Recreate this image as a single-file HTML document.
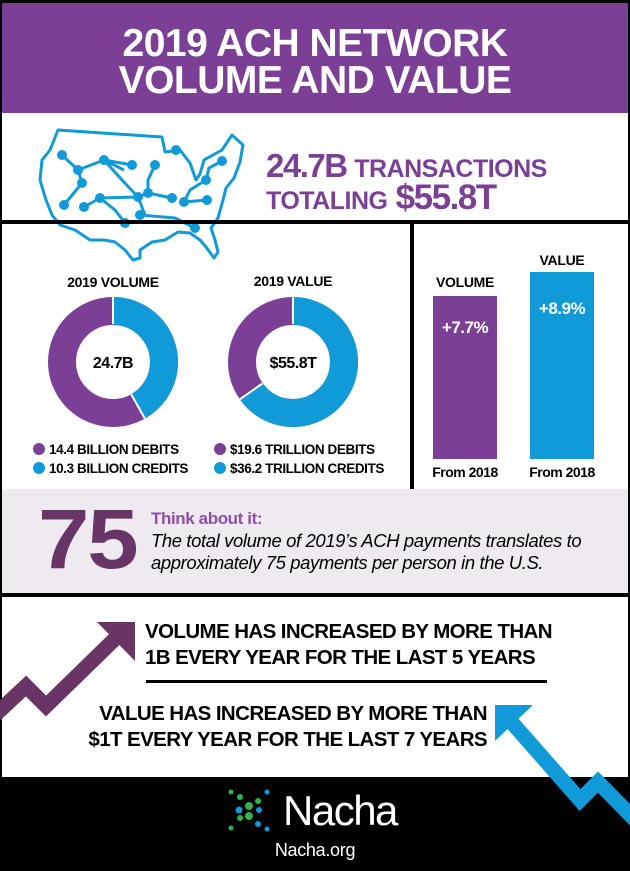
<!DOCTYPE html>
<html><head><meta charset="utf-8"><style>
*{margin:0;padding:0;box-sizing:border-box}
body{width:630px;height:871px;background:#fff;font-family:"Liberation Sans",sans-serif;position:relative;overflow:hidden}
.a{position:absolute}
.b{font-weight:bold}
</style></head><body>
<div class="a" style="left:0;top:0;width:630px;height:871px;border:2px solid #000;border-top:3px solid #000"></div>
<div class="a" style="left:2px;top:3px;width:626px;height:110px;background:#7b3f96"></div>
<div class="a b" style="left:0;top:25px;width:630px;text-align:center;color:#fff;font-size:39px;line-height:37px;letter-spacing:-0.5px">2019 ACH NETWORK<br>VOLUME AND VALUE</div>

<!-- map -->
<svg class="a" style="left:0;top:100px" width="260" height="170" viewBox="0 0 260 170">
<g fill="none" stroke="#109ad8" stroke-width="3" stroke-linejoin="round">
<path d="M58 30 L162 37 L165 52 L180 50 L190 63 L196 80 L200 74 L204 60 L222 50 L230 38 L232 35 L243 45 L240 62 L234 78 L226 88 L223 100 L218 118 L211 128 L215 140 L218 152 L214 158 L206 147 L200 140 L190 133 L178 132 L165 140 L152 142 L140 150 L140 158 L133 160 L125 150 L115 142 L104 140 L90 140 L75 130 L60 125 L52 115 L46 100 L40 80 L42 60 L50 50 Z"/>
<path d="M62 55 L78 70 L82 83 L64 105 M78 70 L104 60 L132 65 M104 60 L122 80 L138 97 L145 115 M104 60 L124 70 M155 65 L148 80 L148 93 L172 98 M138 97 L148 93 M138 97 L100 98 L84 107 M100 98 L115 110 L125 123 M140 115 L175 118 L195 128 M184 102 L190 90 L206 80 L209 68 L222 61 M184 102 L207 100"/>
</g>
<g fill="#109ad8"><circle cx="62" cy="55" r="5"/><circle cx="78" cy="70" r="5"/><circle cx="104" cy="60" r="5"/><circle cx="132" cy="65" r="5"/><circle cx="82" cy="83" r="5"/><circle cx="64" cy="105" r="5"/><circle cx="155" cy="65" r="5"/><circle cx="148" cy="93" r="5"/><circle cx="172" cy="98" r="5"/><circle cx="138" cy="97" r="5"/><circle cx="100" cy="98" r="5"/><circle cx="84" cy="107" r="5"/><circle cx="125" cy="123" r="5"/><circle cx="140" cy="115" r="5"/><circle cx="195" cy="128" r="5"/><circle cx="184" cy="102" r="5"/><circle cx="207" cy="100" r="5"/><circle cx="206" cy="80" r="5"/><circle cx="222" cy="61" r="5"/><circle cx="176" cy="50" r="5"/></g>
</svg>
<div class="a b" style="left:266px;top:147px;color:#7b3f96;font-size:33px;letter-spacing:-1.5px;white-space:nowrap">24.7B <span style="font-size:25px;letter-spacing:-0.5px">TRANSACTIONS</span></div>
<div class="a b" style="left:266px;top:178px;color:#7b3f96;font-size:35px;letter-spacing:-1.5px;white-space:nowrap"><span style="font-size:25px;letter-spacing:-0.5px">TOTALING</span> $55.8T</div>

<div class="a" style="left:0;top:220px;width:630px;height:4px;background:#000"></div>
<div class="a" style="left:410px;top:220px;width:4px;height:270px;background:#000"></div>

<!-- donuts -->
<div class="a b" style="left:43px;top:274px;width:140px;text-align:center;font-size:14px;letter-spacing:-0.3px">2019 VOLUME</div>
<div class="a b" style="left:223px;top:273px;width:140px;text-align:center;font-size:14px;letter-spacing:-0.3px">2019 VALUE</div>
<svg class="a" style="left:0;top:290px" width="400" height="150">
<g transform="translate(113,72)">
<circle r="51" fill="none" stroke="#7b3f96" stroke-width="28"/>
<circle r="51" fill="none" stroke="#109ad8" stroke-width="28" stroke-dasharray="133.6 400" transform="rotate(-90)"/>
<line x1="0" y1="-38" x2="0" y2="-66" stroke="#fff" stroke-width="2"/>
<line x1="18.3" y1="32.4" x2="31.8" y2="56.5" stroke="#fff" stroke-width="2"/>
<text y="6" text-anchor="middle" font-family="Liberation Sans" font-weight="bold" font-size="16" letter-spacing="-0.5">24.7B</text>
</g>
<g transform="translate(293,72)">
<circle r="51" fill="none" stroke="#7b3f96" stroke-width="28"/>
<circle r="51" fill="none" stroke="#109ad8" stroke-width="28" stroke-dasharray="208 400" transform="rotate(-90)"/>
<line x1="0" y1="-38" x2="0" y2="-66" stroke="#fff" stroke-width="2"/>
<line x1="-30.6" y1="21.5" x2="-53.3" y2="37.4" stroke="#fff" stroke-width="2"/>
<text y="6" text-anchor="middle" font-family="Liberation Sans" font-weight="bold" font-size="16" letter-spacing="-0.5">$55.8T</text>
</g>
</svg>
<div class="a b" style="left:33px;top:440px;font-size:13.5px;line-height:19px;letter-spacing:-0.4px;white-space:nowrap">
<div><span style="display:inline-block;width:12px;height:12px;border-radius:50%;background:#7b3f96;vertical-align:-1px;margin-right:4px"></span>14.4 BILLION DEBITS</div>
<div><span style="display:inline-block;width:12px;height:12px;border-radius:50%;background:#109ad8;vertical-align:-1px;margin-right:4px"></span>10.3 BILLION CREDITS</div></div>
<div class="a b" style="left:214px;top:440px;font-size:13.5px;line-height:19px;letter-spacing:-0.4px;white-space:nowrap">
<div><span style="display:inline-block;width:12px;height:12px;border-radius:50%;background:#7b3f96;vertical-align:-1px;margin-right:4px"></span>$19.6 TRILLION DEBITS</div>
<div><span style="display:inline-block;width:12px;height:12px;border-radius:50%;background:#109ad8;vertical-align:-1px;margin-right:4px"></span>$36.2 TRILLION CREDITS</div></div>

<!-- bars -->
<div class="a b" style="left:420px;top:274px;width:90px;text-align:center;font-size:14px;letter-spacing:-0.3px">VOLUME</div>
<div class="a b" style="left:517px;top:252px;width:90px;text-align:center;font-size:14px;letter-spacing:-0.3px">VALUE</div>
<div class="a b" style="left:433px;top:296px;width:64px;height:163px;background:#7b3f96;color:#fff;text-align:center;font-size:17px;padding-top:22px;letter-spacing:-0.5px">+7.7%</div>
<div class="a b" style="left:530px;top:272px;width:64px;height:187px;background:#109ad8;color:#fff;text-align:center;font-size:17px;padding-top:27px;letter-spacing:-0.5px">+8.9%</div>
<div class="a b" style="left:420px;top:464px;width:90px;text-align:center;font-size:14px;letter-spacing:-0.5px">From 2018</div>
<div class="a b" style="left:517px;top:464px;width:90px;text-align:center;font-size:14px;letter-spacing:-0.5px">From 2018</div>

<!-- think -->
<div class="a" style="left:2px;top:489px;width:626px;height:104px;background:#eeeaf0"></div>
<div class="a" style="left:0;top:593px;width:630px;height:4px;background:#000"></div>
<div class="a b" style="left:38px;top:491px;color:#693466;font-size:84px;letter-spacing:-2px;transform:scaleX(1.1);transform-origin:left">75</div>
<div class="a b" style="left:151px;top:509px;color:#8d4fa8;font-size:17px;letter-spacing:-0.4px">Think about it:</div>
<div class="a" style="left:151px;top:530px;font-size:18.5px;line-height:22px;font-style:italic;letter-spacing:-0.4px;white-space:nowrap">The total volume of 2019’s ACH payments translates to<br>approximately 75 payments per person in the U.S.</div>

<!-- increases -->
<div class="a b" style="left:145px;top:619px;font-size:20.5px;line-height:26px;letter-spacing:-0.6px;white-space:nowrap">VOLUME HAS INCREASED BY MORE THAN<br>1B EVERY YEAR FOR THE LAST 5 YEARS</div>
<div class="a" style="left:146px;top:680px;width:401px;height:3px;background:#000"></div>
<div class="a b" style="left:80px;top:701px;width:407px;text-align:right;font-size:20.5px;line-height:26px;letter-spacing:-0.6px;white-space:nowrap">VALUE HAS INCREASED BY MORE THAN<br>$1T EVERY YEAR FOR THE LAST 7 YEARS</div>

<div class="a" style="left:0;top:777px;width:630px;height:94px;background:#000"></div>
<svg class="a" style="left:0;top:600px" width="630" height="230">
<polyline points="-5,115 26,86 46,106 122,32" fill="none" stroke="#693466" stroke-width="15" stroke-linejoin="miter"/>
<polygon points="97,22 135,22 135,61" fill="#693466"/>
<polyline points="507,117 580,200 598,182 640,225" fill="none" stroke="#109ad8" stroke-width="15" stroke-linejoin="miter"/>
<polygon points="495,105 533,105 495,141" fill="#109ad8"/>
</svg>

<!-- footer -->
<svg class="a" style="left:228px;top:788px" width="46" height="46">
<g fill="#2fb34a"><circle cx="3" cy="4" r="2.5"/><circle cx="12" cy="9" r="3"/><circle cx="21" cy="18" r="4"/><circle cx="12" cy="30" r="3"/><circle cx="3" cy="40" r="2.5"/><circle cx="21" cy="28" r="4"/><circle cx="30" cy="13" r="3"/></g>
<g fill="#109ad8"><circle cx="11" cy="22" r="3.5"/><circle cx="39" cy="4" r="2.5"/><circle cx="30" cy="36" r="3"/><circle cx="39" cy="41" r="2.5"/><circle cx="31" cy="22" r="3"/></g>
</svg>
<div class="a" style="left:283px;top:787px;color:#fff;font-size:42px;letter-spacing:-1.5px">Nacha</div>
<div class="a" style="left:0;top:840px;width:630px;text-align:center;color:#fff;font-size:18px;letter-spacing:-0.3px">Nacha.org</div>
</body></html>
